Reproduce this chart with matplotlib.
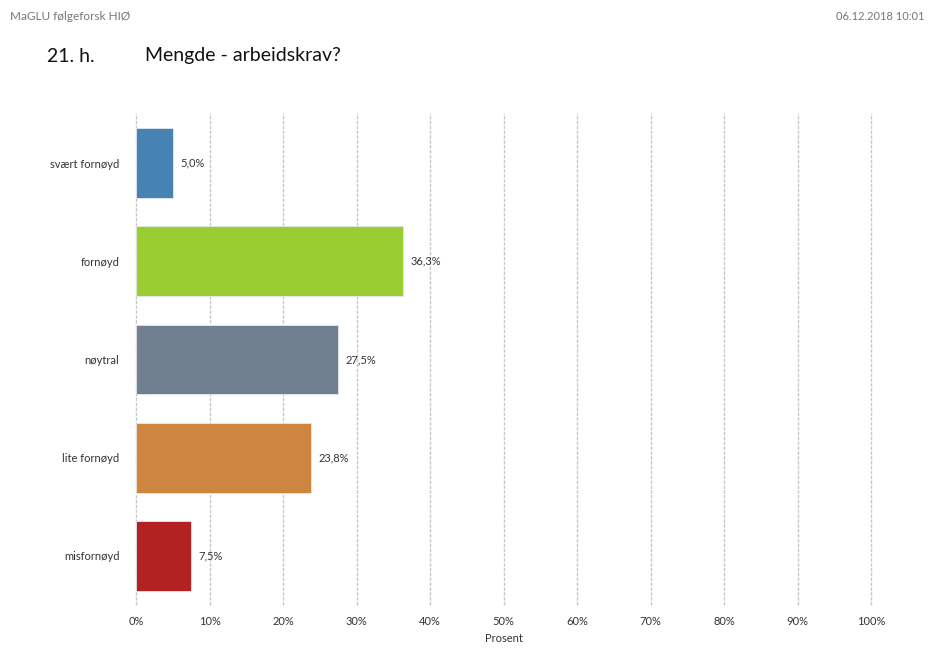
import matplotlib
matplotlib.use("Agg")
import matplotlib.pyplot as plt

categories = ["svært fornøyd", "fornøyd", "nøytral", "lite fornøyd", "misfornøyd"]
values = [5.0, 36.3, 27.5, 23.8, 7.5]
colors = ["#4682b4", "#9acd32", "#708090", "#cd853f", "#b22222"]
xticks = [0, 10, 20, 30, 40, 50, 60, 70, 80, 90, 100]
xticklabels = [f"{t}%" for t in xticks]

plt.rcParams['font.family'] = ['Lato', 'DejaVu Sans']

fig = plt.figure(figsize=(9.31, 6.5), dpi=100)
ax = fig.add_axes([136/931, 1-605/650, (871-136)/931, (605-113)/650])

ypos = list(range(len(categories)))
ax.barh(ypos, values, height=0.71, color=colors, edgecolor="#e8e8e8", linewidth=0.6, zorder=3)
for y, v in zip(ypos, values):
    ax.text(v + 1.0, y, f"{v:.1f}%".replace(".", ","), va="center", ha="left", fontsize=8, color="#333333")

ax.set_xlim(0, 100)
ax.set_ylim(4.5, -0.51)
ax.set_xticks(xticks)
ax.set_xticklabels(xticklabels, fontsize=8, color="#333333")
ax.set_yticks(ypos)
ax.set_yticklabels(categories, fontsize=8, color="#333333")
ax.tick_params(axis="both", length=0, pad=8)
ax.tick_params(axis="y", pad=12)
for s in ax.spines.values():
    s.set_visible(False)
for t in xticks:
    ax.axvline(t, color="#c8c8c8", linewidth=1.0, linestyle=(0, (2.5, 1)), zorder=1, clip_on=False)
ax.set_xlabel("Prosent", fontsize=8, color="#333333", labelpad=4)

fig.text(10/931, 1-16/650, "MaGLU følgeforsk HIØ", fontsize=8.5, color="#777777", va="center", ha="left")
fig.text(925/931, 1-16/650, "06.12.2018 10:01", fontsize=8, color="#777777", va="center", ha="right")
fig.text(47/931, 1-56/650, "21. h.", fontsize=14, color="#111111", va="center", ha="left")
fig.text(145/931, 1-56/650, "Mengde - arbeidskrav?", fontsize=14, color="#111111", va="center", ha="left")

fig.savefig("out.png", dpi=100)
